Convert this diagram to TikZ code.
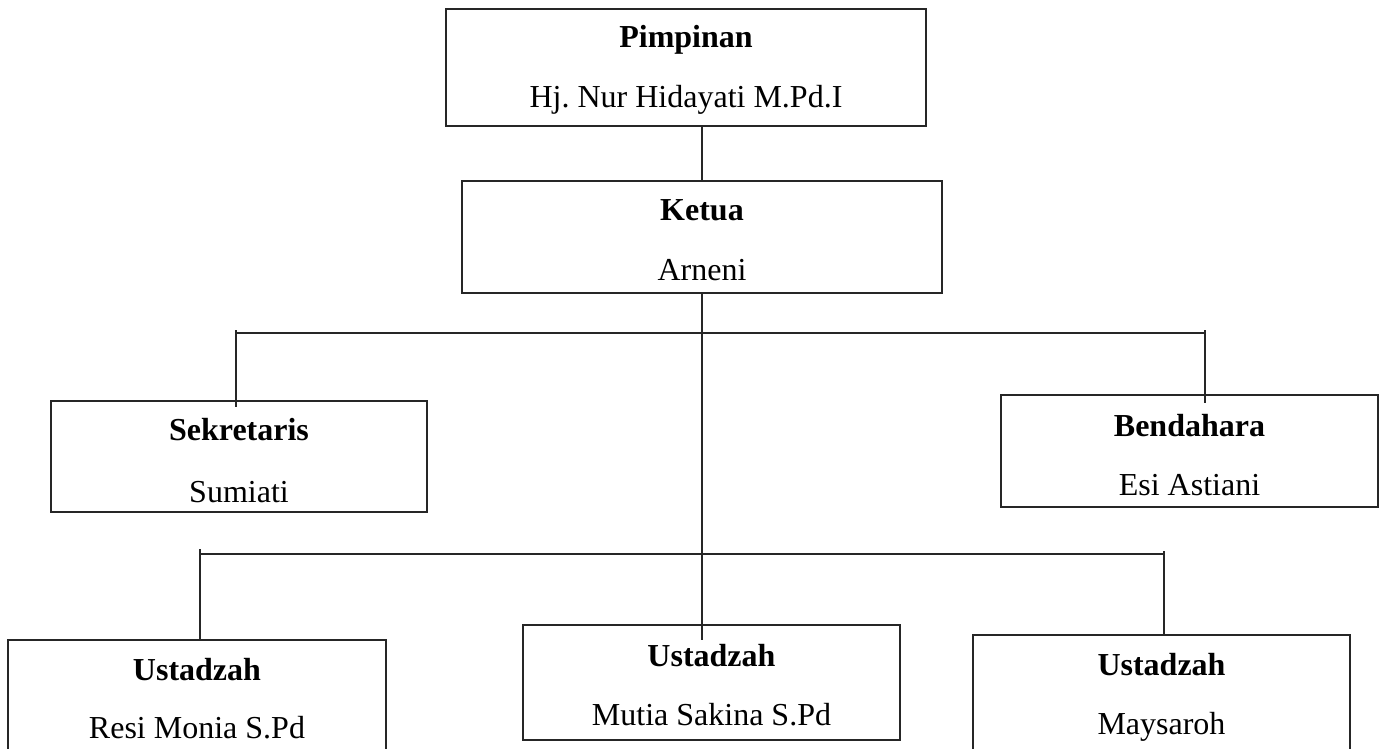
\documentclass[tikz,border=0pt]{standalone}
\usepackage{fontspec}
\setmainfont{Liberation Serif}
\frenchspacing
\begin{document}
\begin{tikzpicture}[x=1pt,y=-1pt,
  orgbox/.style={draw=black!85, line width=1.5pt, inner sep=0pt},
  ttl/.style={anchor=base, inner sep=0pt, font=\fontsize{32}{38}\selectfont\bfseries},
  nm/.style={anchor=base, inner sep=0pt, font=\fontsize{32}{38}\selectfont},
  conn/.style={draw=black!85, line width=1.5pt}]
\useasboundingbox (0,0) rectangle (1384,749);
\clip (0,0) rectangle (1384,749);
% boxes
\node[orgbox, minimum width=480pt, minimum height=117pt] (P) at (686,67.5) {};
\node[orgbox, minimum width=480pt, minimum height=112pt] (K) at (702,237) {};
\node[orgbox, minimum width=376pt, minimum height=111pt] (S) at (239,456.5) {};
\node[orgbox, minimum width=377pt, minimum height=112pt] (B) at (1189.5,451) {};
\node[orgbox, minimum width=378pt, minimum height=117pt] (U1) at (197,698.5) {};
\node[orgbox, minimum width=377pt, minimum height=115pt] (U2) at (711.5,682.5) {};
\node[orgbox, minimum width=377pt, minimum height=117pt] (U3) at (1161.5,693.5) {};
% texts
\node[ttl] (Pt) at (686,48) {Pimpinan};
\node[nm] (Pn) at (686,108) {Hj.\ Nur Hidayati M.Pd.I};
\node[ttl] (Kt) at (702,220) {Ketua};
\node[nm] (Kn) at (702,280) {Arneni};
\node[ttl] (St) at (239,440) {Sekretaris};
\node[nm] (Sn) at (239,502) {Sumiati};
\node[ttl] (Bt) at (1189.5,436) {Bendahara};
\node[nm] (Bn) at (1189.5,495) {Esi Astiani};
\node[ttl] (U1t) at (197,680) {Ustadzah};
\node[nm] (U1n) at (197,738) {Resi Monia S.Pd};
\node[ttl] (U2t) at (711.5,666) {Ustadzah};
\node[nm] (U2n) at (711.5,725) {Mutia Sakina S.Pd};
\node[ttl] (U3t) at (1161.5,675) {Ustadzah};
\node[nm] (U3n) at (1161.5,734) {Maysaroh};
% connector coordinates
\coordinate (pk) at (702,126);
\coordinate (kend) at (702,640);
\coordinate (b1l) at (236,333);
\coordinate (b1r) at (1205,333);
\coordinate (b1lt) at (236,330);
\coordinate (b1lb) at (236,407);
\coordinate (b1rt) at (1205,330);
\coordinate (b1rb) at (1205,403);
\coordinate (b2l) at (200,554);
\coordinate (b2r) at (1164,554);
\coordinate (b2lt) at (200,549);
\coordinate (b2rt) at (1164,551);
% connectors
\draw[conn] (K.north) -- (pk);
\draw[conn] (K.south) -- (kend);
\draw[conn] (b1l) -- (b1r);
\draw[conn] (b1lt) -- (b1lb);
\draw[conn] (b1rt) -- (b1rb);
\draw[conn] (b2l) -- (b2r);
\draw[conn] (b2lt) -- (b2lt |- U1.north);
\draw[conn] (b2rt) -- (b2rt |- U3.north);
\end{tikzpicture}
\end{document}
